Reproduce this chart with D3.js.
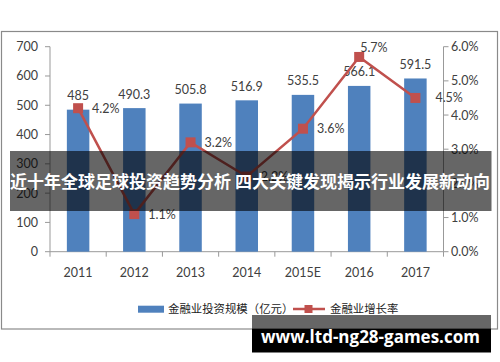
<!DOCTYPE html>
<html><head><meta charset="utf-8">
<script src="https://cdn.jsdelivr.net/npm/d3@7/dist/d3.min.js"></script>
<style>html,body{margin:0;padding:0;background:#fff;}svg{display:block;}</style>
</head><body>
<svg id="c" width="500" height="362"></svg>
<script>
const categories = ["2011","2012","2013","2014","2015E","2016","2017"];
const investValues = [485, 490.3, 505.8, 516.9, 535.5, 566.1, 591.5];
const growthValues = [4.2, 1.1, 3.2, 2.2, 3.6, 5.7, 4.5];
const leftTicks = [0,100,200,300,400,500,600,700];
const rightTicks = [0,1,2,3,4,5,6];
const seriesNames = ["金融业投资规模（亿元）","金融业增长率"];
const bannerText = "近十年全球足球投资趋势分析 四大关键发现揭示行业发展新动向";
const watermarkText = "www.ltd-ng28-games.com";

const svg = d3.select("#c");
const numFont = "Lato, 'Open Sans', sans-serif";
const cjkFont = "'Noto Sans CJK SC', sans-serif";
const blue = "#4F81BD", red = "#C0504D", axisCol = "#999", txt = "#404040";

// outer frame
svg.append("rect").attr("x",1.5).attr("y",31.5).attr("width",496).attr("height",297.5)
  .attr("fill","#fff").attr("stroke","#8a8a8a").attr("stroke-width",1.2);

const x = d3.scaleBand().domain(categories).range([50, 443.5]).padding(0);
const yL = d3.scaleLinear().domain([0,700]).range([251.7, 46.7]);
const yR = d3.scaleLinear().domain([0,6]).range([251.7, 46.7]);
const bw = x.bandwidth();
const cx = d => x(d) + bw/2;

// axes
const gA = svg.append("g");
gA.append("line").attr("x1",50).attr("x2",50).attr("y1",yL(700)).attr("y2",yL(0)).attr("stroke",axisCol);
gA.append("line").attr("x1",443.5).attr("x2",443.5).attr("y1",yR(6)).attr("y2",yR(0)).attr("stroke",axisCol);
gA.append("line").attr("x1",50).attr("x2",443.5).attr("y1",yL(0)).attr("y2",yL(0)).attr("stroke",axisCol);

leftTicks.forEach(t=>{
  gA.append("line").attr("x1",45).attr("x2",50).attr("y1",yL(t)).attr("y2",yL(t)).attr("stroke",axisCol);
  gA.append("text").attr("x",38).attr("y",yL(t)).attr("dy","0.36em").attr("text-anchor","end")
    .attr("font-family",numFont).attr("font-size",12.5).attr("fill",txt).text(t);
});
rightTicks.forEach(t=>{
  gA.append("line").attr("x1",443.5).attr("x2",448.5).attr("y1",yR(t)).attr("y2",yR(t)).attr("stroke",axisCol);
  gA.append("text").attr("x",451).attr("y",yR(t)).attr("dy","0.36em").attr("text-anchor","start")
    .attr("font-family",numFont).attr("font-size",12.5).attr("fill",txt).text(t.toFixed(1)+"%");
});
categories.concat([null]).forEach((c,i)=>{
  const xp = c===null ? x.range()[1] : x(c);
  gA.append("line").attr("x1",xp).attr("x2",xp).attr("y1",yL(0)).attr("y2",yL(0)+5).attr("stroke",axisCol);
});
categories.forEach(c=>{
  gA.append("text").attr("x",cx(c)).attr("y",272.7).attr("dy","0.36em").attr("text-anchor","middle")
    .attr("font-family",numFont).attr("font-size",12.5).attr("fill",txt).text(c);
});

// bars
const barW = bw*0.4;
svg.append("g").selectAll("rect").data(investValues).join("rect")
  .attr("x",(d,i)=>cx(categories[i])-barW/2).attr("width",barW)
  .attr("y",d=>yL(d)).attr("height",d=>yL(0)-yL(d)).attr("fill",blue);
svg.append("g").selectAll("text").data(investValues).join("text")
  .attr("x",(d,i)=>cx(categories[i])).attr("y",d=>yL(d)-9.5).attr("text-anchor","middle")
  .attr("font-family",numFont).attr("font-size",12.5).attr("fill",txt).text(d=>d);

// line
const line = d3.line().x((d,i)=>cx(categories[i])).y(d=>yR(d));
svg.append("path").datum(growthValues).attr("d",line).attr("fill","none").attr("stroke",red).attr("stroke-width",2.5);
svg.append("g").selectAll("rect").data(growthValues).join("rect")
  .attr("x",(d,i)=>cx(categories[i])-5).attr("y",d=>yR(d)-5).attr("width",10).attr("height",10).attr("fill",red);
const maxG = d3.max(growthValues);
svg.append("g").selectAll("text").data(growthValues).join("text")
  .attr("x",(d,i)=>cx(categories[i]) + (d===maxG ? 1 : (i===growthValues.length-1 ? 20 : 14)))
  .attr("y",d=>yR(d) + (d===maxG ? -9 : 0)).attr("dy","0.36em")
  .attr("font-family",numFont).attr("font-size",12.5).attr("fill",txt).text(d=>d.toFixed(1)+"%");

// legend
const lg = svg.append("g");
lg.append("rect").attr("x",138).attr("y",305.7).attr("width",26).attr("height",7).attr("fill",blue);
lg.append("text").attr("x",168).attr("y",309).attr("dy","0.36em").attr("font-family",cjkFont)
  .attr("font-size",11.4).attr("fill","#222").text(seriesNames[0]);
lg.append("line").attr("x1",293).attr("x2",325).attr("y1",309).attr("y2",309).attr("stroke",red).attr("stroke-width",2.5);
lg.append("rect").attr("x",304.5).attr("y",305).attr("width",8).attr("height",8).attr("fill",red);
lg.append("text").attr("x",330).attr("y",309).attr("dy","0.36em").attr("font-family",cjkFont)
  .attr("font-size",11.4).attr("fill","#222").text(seriesNames[1]);

// banner overlay
svg.append("rect").attr("x",10).attr("y",151).attr("width",481.5).attr("height",60).attr("fill","rgba(0,0,0,0.6)");
svg.append("text").attr("x",250).attr("y",181.5).attr("dy","0.36em").attr("text-anchor","middle")
  .attr("font-family",cjkFont).attr("font-weight","bold").attr("font-size",17).attr("fill","#fff").text(bannerText);

// watermark
svg.append("rect").attr("x",252).attr("y",315).attr("width",239).attr("height",13.5).attr("fill","rgba(0,0,0,0.6)");
svg.append("rect").attr("x",252).attr("y",328.5).attr("width",239).attr("height",24).attr("fill","#000");
svg.append("text").attr("x",370.5).attr("y",337).attr("dy","0.36em").attr("text-anchor","middle")
  .attr("font-family","'Open Sans', sans-serif").attr("font-weight","bold").attr("font-size",17).attr("fill","#fff").text(watermarkText);
</script>
</body></html>
